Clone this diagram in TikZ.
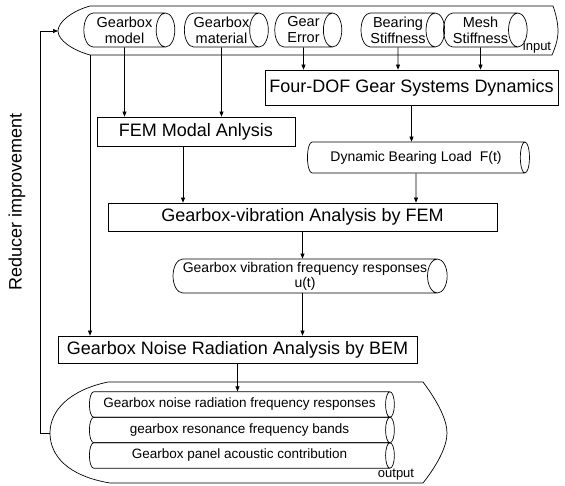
\documentclass[tikz,border=0pt]{standalone}
\usepackage{fontspec}
\setmainfont{Liberation Sans}
\usetikzlibrary{shapes.geometric,arrows.meta}

\begin{document}
\begin{tikzpicture}[x=1pt, y=1pt, line width=0.7pt,
	every node/.style={inner sep=0pt, align=center},
	box/.style={rectangle, draw, font=\fontsize{18}{20}\selectfont},
	tube/.style={cylinder, draw, aspect=0.7, font=\fontsize{14.5}{16}\selectfont},
	arr/.style={-{Triangle[length=5pt,width=4pt]}}]
	\useasboundingbox (0,0) rectangle (565,-486);
	
	% input container
	\coordinate (inL) at (58,-31);
	\coordinate (inB) at (90,-55);
	\draw (90,-6) -- (553,-6) .. controls (556,-14) and (558,-24) .. (558,-31) .. controls (558,-40) and (555,-48) .. (552,-55) -- (inB)
		.. controls (72,-50) and (58,-40) .. (inL) .. controls (58,-22) and (72,-11) .. (90,-6);
	\node (in) at (537,-47) [font=\fontsize{13}{14}\selectfont]{input};
	
	% output container
	\coordinate (outL) at (50,-433);
	\draw (108,-382) -- (423,-382) .. controls (438,-402) and (447,-420) .. (447,-433) .. controls (447,-446) and (438,-464) .. (423,-483) -- (110,-483)
		.. controls (68,-476) and (50,-456) .. (outL) .. controls (50,-410) and (70,-390) .. (108,-382);
	\node (out) at (396,-475) [font=\fontsize{13}{14}\selectfont]{output};
	
	% cylinders: minimum height is the length, minimum width the thickness
	\node (1) at (124.5,-30) [tube, minimum height=91, minimum width=34]{Gearbox\\model};
	\node (2) at (221.5,-30) [tube, minimum height=77, minimum width=34]{Gearbox\\material};
	\node (3) at (303.5,-30) [tube, minimum height=67, minimum width=34]{Gear\\Error};
	\node (4) at (398,-30) [tube, minimum height=78, minimum width=34]{Bearing\\Stiffness};
	\node (5) at (480.5,-30) [tube, minimum height=81, minimum width=34]{Mesh\\Stiffness};
	
	\node (6) at (411.5,-87.5) [box, minimum width=293, minimum height=35]{Four-DOF Gear Systems Dynamics};
	\node (7) at (196,-131.5) [box, minimum width=198, minimum height=29]{FEM Modal Anlysis};
	\node (8) at (416,-157.5) [tube, minimum height=222, minimum width=31, font=\fontsize{14}{15}\selectfont]{Dynamic Bearing Load~ F(t)};
	\node (9) at (302.5,-217) [box, minimum width=389, minimum height=28]{Gearbox-vibration Analysis by FEM};
	\node (10) at (305,-276) [tube, minimum height=274, minimum width=34, font=\fontsize{14}{15}\selectfont]{Gearbox vibration frequency responses\\u(t)};
	\node (11) at (237.5,-349.5) [box, minimum width=359, minimum height=27]{Gearbox Noise Radiation Analysis by BEM};
	
	\node (12) at (239.5,-404.5) [tube, minimum height=305, minimum width=25.5, font=\fontsize{13.5}{15}\selectfont]{Gearbox noise radiation frequency responses};
	\node (13) at (239.5,-430) [tube, minimum height=305, minimum width=25.5, font=\fontsize{13.5}{15}\selectfont]{gearbox resonance frequency bands};
	\node (14) at (239.5,-455.5) [tube, minimum height=305, minimum width=25.5, font=\fontsize{13.5}{15}\selectfont]{Gearbox panel acoustic contribution};
	
	\node (15) at (17,-202) [rotate=90, font=\fontsize{18}{20}\selectfont]{Reducer improvement};
	
	\draw[arr] (1) -- (1 |- 7.north);
	\draw[arr] (2) -- (2 |- 7.north);
	\draw[arr] (3) -- (3 |- 6.north);
	\draw[arr] (4) -- (4 |- 6.north);
	\draw[arr] (5) -- (5 |- 6.north);
	\draw[arr] (6) -- (6 |- 8.north);
	\draw[arr] ([xshift=-13pt]7.south) -- ([xshift=-13pt]7.south |- 9.north);
	\draw[arr] (8) -- (8 |- 9.north);
	\draw[arr] (9) -- (9 |- 10.north);
	\draw[arr] (9 |- 10.south) -- (9 |- 11.north);
	\draw[arr] (inB) -- (inB |- 11.north);
	\draw[arr] (11) -- (11 |- 12.north);
	\draw[arr] (outL) -- ++(-10,0) |- (inL);
	
\end{tikzpicture}
\end{document}
